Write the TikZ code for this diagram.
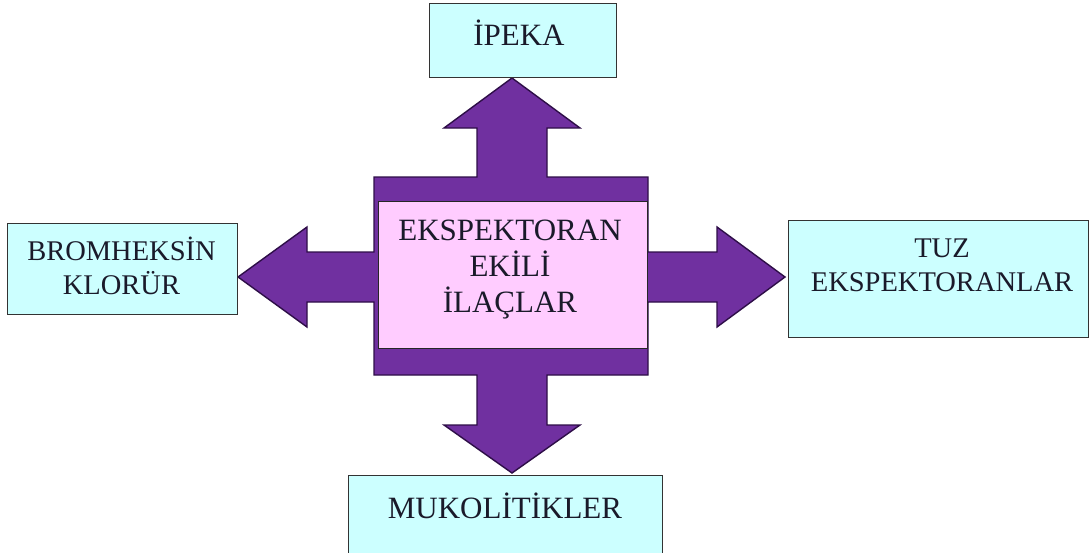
\documentclass[tikz,border=0pt]{standalone}
\usepackage{fontspec}
\setmainfont{Liberation Serif}
\definecolor{purp}{HTML}{7030A0}
\definecolor{purpline}{HTML}{2E0E48}
\definecolor{pinkfill}{HTML}{FFCCFF}
\definecolor{cyanfill}{HTML}{CCFFFF}
\definecolor{txt}{HTML}{1A1A2A}
\tikzset{
  box/.style={draw=black!80, line width=1.3pt, fill=cyanfill, inner sep=0pt, anchor=north west},
  centerbox/.style={draw=black!85, line width=1.3pt, fill=pinkfill, inner sep=0pt, anchor=north west},
  lblbig/.style={text=txt, align=center, inner sep=0pt, font=\fontsize{31}{36}\selectfont},
  lblsmall/.style={text=txt, align=center, inner sep=0pt, font=\fontsize{28.5}{34}\selectfont},
  bigshape/.style={fill=purp, draw=purpline, line width=1.4pt, line join=miter}
}
\begin{document}
\begin{tikzpicture}[x=1pt,y=-1pt]
\clip (0,0) rectangle (1090,552);
\fill[white] (0,0) rectangle (1090,552);
% purple cross with four arrows
\draw[bigshape] (374,177) -- (477,177) -- (477,128) -- (444,128) -- (512,78) -- (580,128) -- (547,128) -- (547,177)
  -- (648,177) -- (648,252) -- (717,252) -- (717,227) -- (785,277) -- (717,327) -- (717,302) -- (648,302)
  -- (648,375) -- (547,375) -- (547,425) -- (580,425) -- (512,473) -- (444,425) -- (477,425) -- (477,375)
  -- (374,375) -- (374,302) -- (307,302) -- (307,327) -- (238,277) -- (307,227) -- (307,252) -- (374,252) -- cycle;
% center box
\node[centerbox, minimum width=269pt, minimum height=147pt] (center) at (378,201) {};
\node[lblbig] (centertxt) at (510,270) {EKSPEKTORAN\\EKİLİ\\İLAÇLAR};
% top box
\node[box, minimum width=187pt, minimum height=74pt] (ipeka) at (429,3) {};
\node[lblbig] (ipekatxt) at (519,33) {İPEKA};
% left box
\node[box, minimum width=230pt, minimum height=91pt] (brom) at (7,223) {};
\node[lblsmall] (bromtxt) at (121.5,265.5) {BROMHEKSİN\\KLORÜR};
% right box
\node[box, minimum width=300pt, minimum height=117pt] (tuz) at (788,220) {};
\node[lblsmall] (tuztxt) at (942,265) {TUZ\\EKSPEKTORANLAR};
% bottom box
\node[box, minimum width=314pt, minimum height=90pt] (muko) at (348,475) {};
\node[lblbig] (mukotxt) at (505,505.5) {MUKOLİTİKLER};
\end{tikzpicture}
\end{document}
